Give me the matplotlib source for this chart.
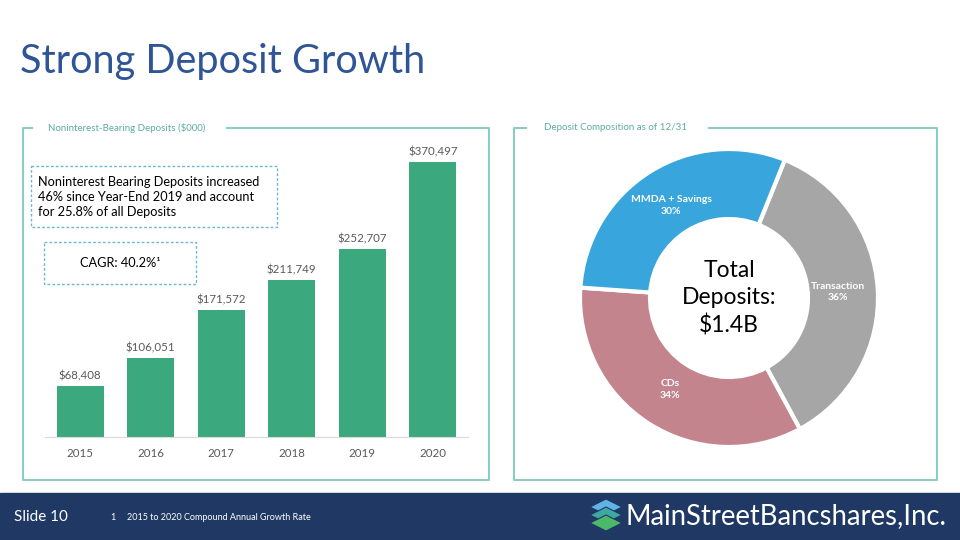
import matplotlib.pyplot as plt
from matplotlib.patches import Rectangle, Polygon

plt.rcParams['font.family'] = ['Lato', 'DejaVu Sans']

# bar chart data
years = ['2015', '2016', '2017', '2018', '2019', '2020']
deposits = [68408, 106051, 171572, 211749, 252707, 370497]

# donut data
segments = ['Transaction', 'CDs', 'MMDA + Savings']
shares = [36, 34, 30]
seg_colors = ['#A6A6A6', '#C3848E', '#38A6DC']

W, H = 960, 540
fig = plt.figure(figsize=(9.6, 5.4), dpi=100)

# background layer in pixel coordinates
bg = fig.add_axes([0, 0, 1, 1])
bg.set_xlim(0, W)
bg.set_ylim(H, 0)
bg.axis('off')

def px(l, t, w, h):
    return [l / W, (H - t - h) / H, w / W, h / H]

bg.text(20, 62, 'Strong Deposit Growth', fontsize=28.5, color='#2F5597', va='center', ha='left')

border = '#8CCDBF'
teal = '#5DAE9C'
# left panel frame
bg.plot([32, 23, 23, 489, 489, 227], [128, 128, 480, 480, 128, 128], color=border, lw=1.5)
bg.text(48, 128, 'Noninterest-Bearing Deposits ($000)', fontsize=7, color=teal, va='center')
# right panel frame
bg.plot([526, 514, 514, 937, 937, 709], [128, 128, 480, 480, 128, 128], color=border, lw=1.5)
bg.text(544, 128, 'Deposit Composition as of 12/31', fontsize=7, color=teal, va='center')

# callout boxes
bg.add_patch(Rectangle((31, 166), 246, 61, fill=False, ec='#6BB8D6', lw=1, ls=(0, (2, 1.5))))
bg.text(38, 197, 'Noninterest Bearing Deposits increased\n46% since Year-End 2019 and account\nfor 25.8% of all Deposits',
        fontsize=9.2, color='black', va='center', ha='left', linespacing=1.3)
bg.add_patch(Rectangle((44, 242), 152, 42, fill=False, ec='#6BB8D6', lw=1, ls=(0, (2, 1.5))))
bg.text(120, 263, 'CAGR: 40.2%¹', fontsize=9.2, color='black', va='center', ha='center')

# footer
bg.add_patch(Rectangle((0, 493), W, 47, color='#203864'))
bg.text(14, 517, 'Slide 10', fontsize=11, color='white', va='center')
bg.text(110, 517, '1', fontsize=6.5, color='white', va='center')
bg.text(127, 517, '2015 to 2020 Compound Annual Growth Rate', fontsize=6.5, color='white', va='center')
bg.text(626, 516, 'MainStreetBancshares,Inc.', fontsize=19.8, color='white', va='center', ha='left')
for dy, c in [(0, '#5FB3E6'), (8, '#3FA8A0'), (16, '#4CB86A')]:
    bg.add_patch(Polygon([(606, 499 + dy), (622, 507 + dy), (606, 515 + dy), (590, 507 + dy)],
                         closed=True, color=c, ec='#203864', lw=0.8))

# bar chart
ax = fig.add_axes(px(45, 140, 423, 297))
x = range(len(years))
bars = ax.bar(x, deposits, width=0.667, color='#3CA87D')
ax.set_xlim(-0.5, 5.5)
ax.set_ylim(0, 400000)
for rect, v in zip(bars, deposits):
    ax.text(rect.get_x() + rect.get_width() / 2, v + 6000, f'${v:,}', ha='center', va='bottom',
            fontsize=8.3, color='#595959')
ax.set_xticks(list(x))
ax.set_xticklabels(years, fontsize=8.3, color='#595959')
ax.tick_params(axis='x', length=0, pad=8)
ax.set_yticks([])
for s in ['top', 'right', 'left']:
    ax.spines[s].set_visible(False)
ax.spines['bottom'].set_color('#D9D9D9')
ax.patch.set_alpha(0)

# donut chart
r_px = 149
pax = fig.add_axes(px(729 - 160, 298 - 160, 320, 320))
labels = [f'{n}\n{v}%' for n, v in zip(segments, shares)]
wedges, texts = pax.pie(shares, colors=seg_colors, startangle=68, counterclock=False,
                        labels=labels, labeldistance=0.73,
                        wedgeprops=dict(width=0.47, edgecolor='white', linewidth=3))
for t in texts:
    t.set_ha('center')
    t.set_va('center')
    t.set_color('white')
    t.set_fontsize(7.5)
    t.set_fontweight('bold')
    t.set_linespacing(1.4)
lim = 160 / r_px
pax.set_xlim(-lim, lim)
pax.set_ylim(-lim, lim)
pax.text(0, 0, 'Total\nDeposits:\n$1.4B', ha='center', va='center', fontsize=16.5, linespacing=1.35)

fig.savefig('out.png', dpi=100)
